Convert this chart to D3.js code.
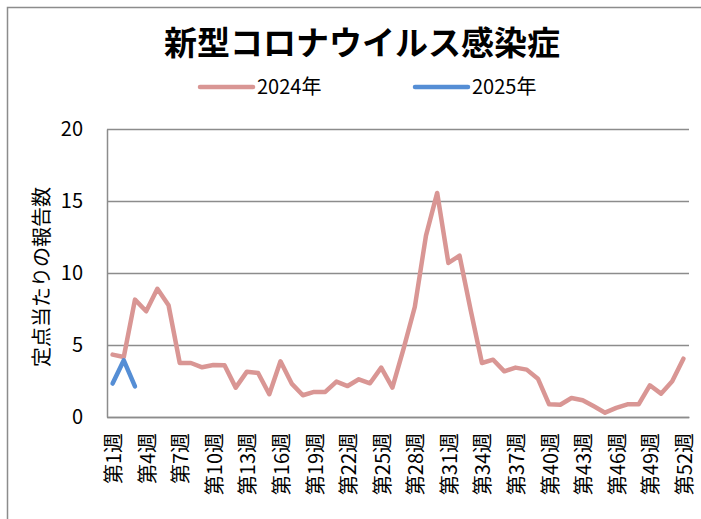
<!DOCTYPE html>
<html>
<head>
<meta charset="utf-8">
<script src="https://cdn.jsdelivr.net/npm/d3@7"></script>
<style>
  body { margin: 0; background: #fff; }
  svg { display: block; }
  text { font-family: "Noto Sans CJK JP", "Noto Sans", sans-serif; fill: #000; }
</style>
</head>
<body>
<svg id="chart" width="701" height="519"></svg>
<script>
// ---- data ----
const weeks = d3.range(1, 53).map((w) => `第${w}週`);
const tickWeeks = d3.range(1, 53, 3).map((w) => `第${w}週`);
const yTicks = [0, 5, 10, 15, 20];

const values2024 = [
  4.33, 4.17, 8.15, 7.34, 8.9, 7.76, 3.75, 3.75, 3.45, 3.61,
  3.6, 2.04, 3.15, 3.06, 1.58, 3.87, 2.32, 1.51, 1.74, 1.74,
  2.46, 2.15, 2.62, 2.34, 3.43, 2.04, 4.75, 7.64, 12.6, 15.56,
  10.7, 11.2, 7.4, 3.75, 3.98, 3.17, 3.43, 3.29, 2.66, 0.88,
  0.85, 1.32, 1.16, 0.74, 0.3, 0.63, 0.88, 0.88, 2.2, 1.62,
  2.48, 4.05,
];
const values2025 = [2.32, 3.94, 2.13];

const series = [
  { name: "2024年", color: "#d99694", values: values2024 },
  { name: "2025年", color: "#558ed5", values: values2025 },
];

// ---- chart ----
const svg = d3.select("#chart");
const margin = { top: 129, right: 12, bottom: 102, left: 107 };
const height = +svg.attr("height");
const innerWidth = 689 - margin.left;
const innerHeight = height - margin.top - margin.bottom;

// outer frame (only top/left visible in the crop)
svg
  .append("path")
  .attr("d", "M7.5,519V7.5H701")
  .attr("fill", "none")
  .attr("stroke", "#8c8c8c")
  .attr("stroke-width", 1.5);

svg
  .append("text")
  .attr("x", 362)
  .attr("y", 55)
  .attr("text-anchor", "middle")
  .attr("font-size", 33)
  .attr("font-weight", "bold")
  .text("新型コロナウイルス感染症");

const g = svg
  .append("g")
  .attr("transform", `translate(${margin.left},${margin.top})`);

const x = d3.scaleBand().domain(weeks).range([0, innerWidth]);
const y = d3.scaleLinear().domain([0, 20]).range([innerHeight, 0]);

// grid
g.append("g")
  .call(d3.axisLeft(y).tickValues(yTicks).tickSize(-innerWidth).tickFormat(""))
  .call((g) => g.select(".domain").remove())
  .call((g) =>
    g.selectAll("line").attr("stroke", "#8c8c8c").attr("stroke-width", 1.5)
  );

// y axis
g.append("g")
  .call(d3.axisLeft(y).tickValues(yTicks).tickSize(0).tickPadding(24))
  .call((g) =>
    g.select(".domain").attr("stroke", "#8c8c8c").attr("stroke-width", 1.5)
  )
  .call((g) =>
    g
      .selectAll("text")
      .attr("font-size", 20)
      .attr("font-family", "'Open Sans', 'Noto Sans', sans-serif")
  );

// x axis
g.append("g")
  .attr("transform", `translate(0,${innerHeight})`)
  .call(d3.axisBottom(x).tickValues(tickWeeks).tickSize(0).tickFormat(""))
  .call((g) =>
    g.select(".domain").attr("stroke", "#8c8c8c").attr("stroke-width", 1.5)
  );

g.append("g")
  .selectAll("text")
  .data(tickWeeks)
  .join("text")
  .attr(
    "transform",
    (d) => `translate(${x(d) + x.bandwidth() / 2},${innerHeight + 16}) rotate(-90)`
  )
  .attr("text-anchor", "end")
  .attr("dominant-baseline", "central")
  .attr("font-size", 20)
  .text((d) => d);

// y label
svg
  .append("text")
  .attr("transform", `translate(40,277) rotate(-90)`)
  .attr("text-anchor", "middle")
  .attr("dominant-baseline", "central")
  .attr("font-size", 20)
  .text("定点当たりの報告数");

// lines
const line = d3
  .line()
  .x((d, i) => x(weeks[i]) + x.bandwidth() / 2)
  .y((d) => y(d));

g.selectAll(".series")
  .data(series)
  .join("path")
  .attr("class", "series")
  .attr("fill", "none")
  .attr("stroke", (d) => d.color)
  .attr("stroke-width", 4.5)
  .attr("stroke-linejoin", "round")
  .attr("stroke-linecap", "round")
  .attr("d", (d) => line(d.values));

// legend
const legendPos = [200, 415];
const legend = svg
  .append("g")
  .selectAll("g")
  .data(series)
  .join("g")
  .attr("transform", (d, i) => `translate(${legendPos[i]},87)`);

legend
  .append("line")
  .attr("x1", 0)
  .attr("x2", 53)
  .attr("stroke", (d) => d.color)
  .attr("stroke-width", 4.5)
  .attr("stroke-linecap", "round");

legend
  .append("text")
  .attr("x", 57)
  .attr("y", 7)
  .attr("font-size", 20)
  .text((d) => d.name);
</script>
</body>
</html>
